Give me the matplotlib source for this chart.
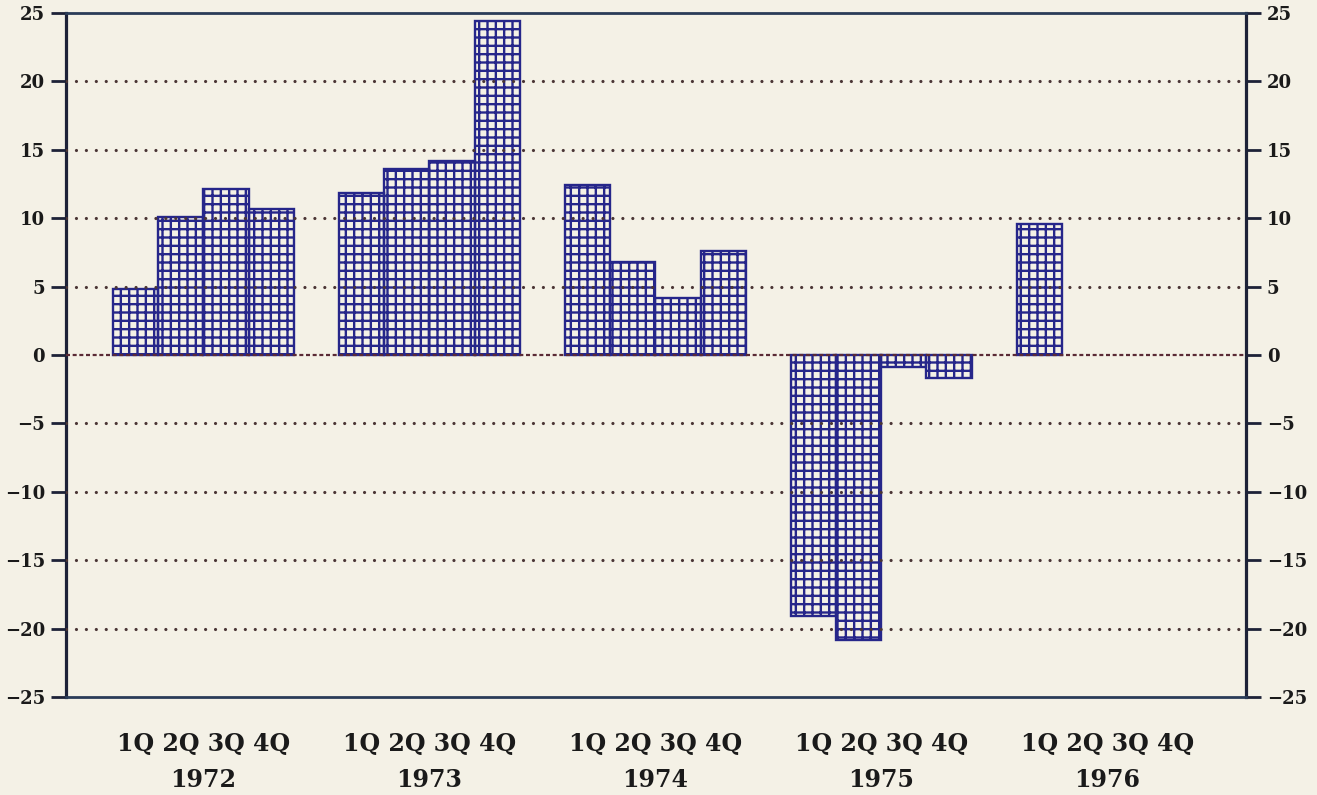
import matplotlib
matplotlib.use("Agg")
import matplotlib.pyplot as plt
import numpy as np

# quarterly values
years = ["1972", "1973", "1974", "1975", "1976"]
quarters = ["1Q", "2Q", "3Q", "4Q"]
values_1972 = [4.8, 10.1, 12.1, 10.7]
values_1973 = [11.85, 13.6, 14.2, 24.4]
values_1974 = [12.4, 6.8, 4.2, 7.6]
values_1975 = [-19.1, -20.8, -0.85, -1.7]
values_1976 = [9.6, np.nan, np.nan, np.nan]
yticks = [-25, -20, -15, -10, -5, 0, 5, 10, 15, 20, 25]

series = [values_1972, values_1973, values_1974, values_1975, values_1976]

bg = "#f4f1e6"
navy = "#26268a"
axis_col = "#1d2238"
grid_col = "#4a3535"
zero_col = "#5a2a35"

plt.rcParams["font.family"] = ["DejaVu Serif"]
plt.rcParams["font.weight"] = "bold"
plt.rcParams["hatch.linewidth"] = 1.7
plt.rcParams["hatch.color"] = navy

fig = plt.figure(figsize=(13.17, 7.95), dpi=100, facecolor=bg)
ax = fig.add_axes([66 / 1317, 1 - 697 / 795, (1246 - 66) / 1317, 684 / 795])
ax.set_facecolor(bg)

# one slot per quarter, one empty slot between years
for g, vals in enumerate(series):
    pos = [g * 5 + q + 1 for q in range(len(vals))]
    keep = [(p, v) for p, v in zip(pos, vals) if not np.isnan(v)]
    ax.bar([p for p, _ in keep], [v for _, v in keep], width=1.0,
           facecolor="none", edgecolor=navy, hatch="++", linewidth=1.7, zorder=2)

ax.set_xlim(-0.54, 25.57)
ax.set_ylim(-25, 25)
ax.set_yticks(yticks)
ax.set_yticklabels([str(t).replace("-", "\u2212") for t in yticks])
ax.set_xticks([])

# dotted gridlines, dashed zero line
for t in yticks:
    if t in (-25, 25):
        continue
    if t == 0:
        ax.axhline(0, color=zero_col, lw=1.6, linestyle=(0, (1.8, 1.2)), zorder=3)
    else:
        ax.axhline(t, color=grid_col, lw=2.3, linestyle=(0, (0.01, 3.1)),
                   dash_capstyle="round", zorder=3)

ax.tick_params(axis="y", which="both", left=True, right=True,
               labelleft=True, labelright=True, direction="out",
               length=11, width=2, color=axis_col, labelsize=13,
               labelcolor="#1a1a1a", pad=4)

for side in ("left", "right"):
    ax.spines[side].set_linewidth(2.3)
    ax.spines[side].set_color(axis_col)
for side in ("top", "bottom"):
    ax.spines[side].set_linewidth(2.0)
    ax.spines[side].set_color("#2a3c58")

# quarter and year labels under each group
tr = matplotlib.transforms.blended_transform_factory(ax.transData, ax.transAxes)
for g, yr in enumerate(years):
    center = g * 5 + 2.5
    ax.text(center, -0.069, " ".join(quarters), transform=tr, ha="center",
            va="center", fontsize=17, color="#1a1a1a", fontweight="bold")
    ax.text(center, -0.122, yr, transform=tr, ha="center", va="center",
            fontsize=17, color="#1a1a1a", fontweight="bold")

fig.savefig("out.png", dpi=100, facecolor=bg)
